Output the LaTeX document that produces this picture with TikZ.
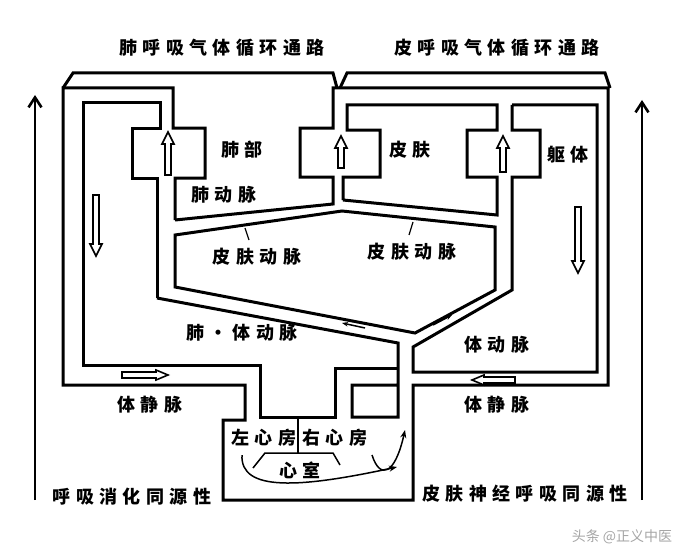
\documentclass[tikz,border=0pt]{standalone}
\usepackage{fontspec}
\newfontfamily\cjk[LetterSpace=30]{Noto Sans CJK SC}
\newfontfamily\cjkw{Noto Sans CJK SC}
\usetikzlibrary{arrows.meta}
\newcommand\varr[3]{% x, tail y, head y (vertical)
  \pgfmathsetmacro\dd{(#3<#2)?1:-1}
  \draw[line width=1.6pt,fill=white] (#1-3,#2) -- (#1-3,#3+\dd*12) -- (#1-6,#3+\dd*12) -- (#1,#3) -- (#1+6,#3+\dd*12) -- (#1+3,#3+\dd*12) -- (#1+3,#2) -- cycle;}
\newcommand\harr[3]{% y, tail x, head x (horizontal)
  \pgfmathsetmacro\dd{(#3<#2)?1:-1}
  \draw[line width=1.6pt,fill=white] (#2,#1-3) -- (#3+\dd*12,#1-3) -- (#3+\dd*12,#1-5) -- (#3,#1) -- (#3+\dd*12,#1+5) -- (#3+\dd*12,#1+3) -- (#2,#1+3) -- cycle;}
\begin{document}
\begin{tikzpicture}[x=1pt,y=-1pt,
  w/.style={line width=3pt,line join=miter},
  t/.style={font=\cjk\fontsize{18}{18}\selectfont\bfseries,inner sep=0pt},
  sm/.style={line width=1.5pt,-{Stealth[length=6pt]}}]
\useasboundingbox (0,0) rectangle (687,559);
\fill[white] (0,0) rectangle (687,559);
% brackets
\draw[w] (63,88) -- (73,73) -- (333,73) -- (337,88);
\draw[w] (340,88) -- (347,73) -- (605,73) -- (610,88);
% lung channel and outer left
\draw[w] (157,298) -- (157,178) -- (132,178) -- (132,128) -- (160,128) -- (160,103) -- (83,103) -- (83,365) -- (260,365) -- (260,417) -- (335,417) -- (335,368) -- (398,368);
\draw[w] (175,220) -- (175,178) -- (205,178) -- (205,128) -- (173,128) -- (173,88) -- (63,88) -- (63,385) -- (245,385) -- (245,420) -- (223,420) -- (223,500) -- (413,500) -- (413,385) -- (608,385) -- (608,88) -- (333,88) -- (333,128) -- (300,128) -- (300,177) -- (333,177) -- (333,204) -- (175,220);
% skin channel
\draw[w] (343,200) -- (343,177) -- (380,177) -- (380,130) -- (347,130) -- (347,105) -- (497,105) -- (497,130) -- (467,130) -- (467,177) -- (497,177) -- (497,215) -- (343,200);
% body channel
\draw[w] (512,105) -- (512,130) -- (540,130) -- (540,177) -- (512,177) -- (512,290) -- (413,347) -- (413,372) -- (597,372) -- (597,105) -- (512,105);
% skin artery triangle
\draw[w] (175,235) -- (342,211) -- (495,227) -- (495,290) -- (415,333) -- (175,287) -- cycle;
\draw[w] (157,298) -- (398,343) -- (398,417) -- (352,417) -- (352,385) -- (398,385);
% heart
\draw[line width=1.5pt] (298,417) -- (298,453);
\draw[line width=1.5pt] (253,468) -- (265,453) -- (333,453) -- (340,465);
\draw[line width=1.5pt,-{Stealth[length=8pt]}] (242,455) .. controls (240,492) and (300,488) .. (397,467);
\draw[line width=1.5pt,-{Stealth[length=8pt]}] (372,455) .. controls (380,480) and (395,475) .. (405,430);
% pointer ticks
\draw[line width=1.2pt] (245,228) -- (249,240);
\draw[line width=1.2pt] (413,222) -- (409,235);
% hollow arrows
\varr{168}{175}{132}
\varr{341}{168}{136}
\varr{503}{172}{136}
\varr{96}{195}{256}
\varr{578}{207}{273}
\harr{375}{122}{168}
\harr{380}{515}{472}
\draw[sm] (365,328) -- (342,323);
\draw[sm] (433,325) -- (452,315);
% long arrows
\draw[line width=2.6pt,-{Straight Barb[length=10pt,width=13pt]}] (35,500) -- (35,95);
\draw[line width=2.6pt,-{Straight Barb[length=10pt,width=13pt]}] (642,500) -- (642,100);
% texts
\node[t] (a) at (222,48) {肺呼吸气体循环通路};
\node[t] (b) at (497,48) {皮呼吸气体循环通路};
\node[t] (c) at (242,150) {肺部};
\node[t] (d) at (224,195) {肺动脉};
\node[t] (e) at (257,257) {皮肤动脉};
\node[t] (f) at (410,150) {皮肤};
\node[t] (g) at (412,252) {皮肤动脉};
\node[t] (h) at (568,155) {躯体};
\node[t] (i) at (242,333) {肺·体动脉};
\node[t] (j) at (497,345) {体动脉};
\node[t] (k) at (150,405) {体静脉};
\node[t] (l) at (497,405) {体静脉};
\node[t] (m) at (264,438) {左心房};
\node[t] (n) at (335,438) {右心房};
\node[t] (o) at (300,470) {心室};
\node[t] (p) at (132,497) {呼吸消化同源性};
\node[t] (q) at (525,494) {皮肤神经呼吸同源性};
\node[font=\cjkw\fontsize{14}{14}\selectfont,text=gray!70,inner sep=0pt] (r) at (622,537) {头条 @正义中医};
\end{tikzpicture}
\end{document}
